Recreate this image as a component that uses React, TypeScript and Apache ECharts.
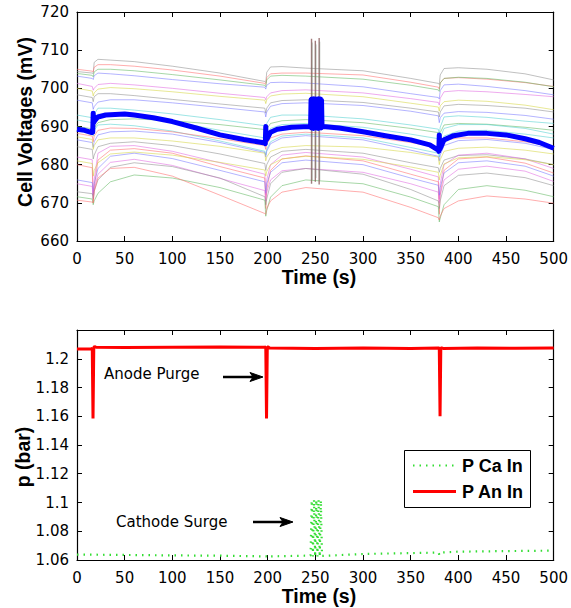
import React, { useEffect, useRef } from "react";
import * as echarts from "echarts";

// ---------- Top chart: cell voltages (mV) ----------
const cellTimes = [0, 16, 17, 18, 22, 35, 60, 100, 150, 197, 198, 199, 203, 215, 240, 300, 350, 379, 380, 381, 385, 400, 430, 470, 500];

const cell01 = [704.4, 704.0, 703.8, 706.8, 707.6, 707.4, 707.0, 705.8, 704.0, 701.8, 701.5, 704.2, 705.6, 705.7, 705.3, 704.6, 702.6, 701.3, 701.0, 703.5, 705.2, 705.4, 705.0, 703.8, 702.2];
const cell02 = [705.0, 704.5, 704.3, 705.5, 706.2, 706.2, 705.8, 704.8, 703.2, 701.3, 701.0, 702.8, 703.8, 704.0, 704.0, 703.5, 701.6, 700.3, 699.8, 701.4, 702.6, 702.8, 702.4, 701.5, 700.5];
const cell03 = [703.9, 703.4, 703.0, 704.3, 705.0, 705.0, 704.6, 703.6, 702.2, 700.8, 700.4, 702.2, 703.2, 703.4, 703.2, 702.4, 700.8, 699.6, 699.2, 701.4, 702.6, 702.9, 702.6, 701.6, 700.4];
const cell04 = [703.2, 702.6, 702.3, 703.3, 704.0, 703.8, 703.3, 702.3, 701.2, 700.3, 699.8, 700.8, 701.5, 701.6, 701.4, 700.4, 698.6, 697.6, 697.2, 699.4, 700.9, 701.1, 700.5, 699.4, 698.3];
const cell05 = [701.3, 700.5, 699.5, 700.0, 701.0, 701.3, 700.9, 700.0, 698.7, 697.6, 697.0, 697.8, 698.8, 699.4, 699.6, 698.8, 697.3, 696.3, 695.6, 697.4, 699.1, 699.4, 699.1, 698.4, 697.8];
const cell06 = [700.0, 699.3, 698.0, 698.8, 699.8, 700.2, 699.9, 699.1, 697.9, 696.9, 696.0, 697.0, 698.0, 698.5, 698.7, 697.8, 696.1, 695.1, 694.0, 695.4, 696.5, 696.9, 696.6, 695.6, 694.4];
const cell07 = [698.3, 697.6, 696.5, 697.8, 698.6, 698.6, 698.1, 697.1, 695.9, 694.8, 693.5, 694.8, 696.2, 696.8, 697.0, 696.3, 694.8, 693.8, 692.5, 693.8, 695.4, 695.8, 695.5, 694.8, 693.8];
const cell08 = [696.9, 696.2, 694.5, 695.2, 696.4, 697.0, 697.0, 696.2, 695.0, 693.8, 692.5, 693.8, 695.3, 696.0, 696.2, 695.5, 694.0, 692.8, 691.0, 692.3, 693.5, 693.9, 693.7, 692.9, 691.9];
const cell09 = [691.7, 691.0, 690.0, 693.2, 694.8, 694.8, 694.3, 693.3, 691.8, 690.2, 689.0, 690.8, 692.4, 693.0, 693.0, 692.0, 690.4, 689.3, 688.0, 689.8, 692.5, 692.8, 692.4, 691.4, 690.8];
const cell10 = [690.0, 689.4, 688.0, 689.6, 691.0, 691.8, 692.0, 691.5, 690.5, 689.2, 688.0, 689.3, 690.8, 691.5, 691.8, 691.0, 689.5, 688.4, 687.0, 688.4, 690.4, 690.8, 690.6, 689.8, 689.0];
const cell11 = [689.0, 688.4, 687.5, 689.0, 690.4, 690.6, 690.2, 688.8, 686.2, 683.5, 682.5, 684.0, 686.0, 687.5, 688.0, 687.0, 684.5, 683.0, 682.0, 684.5, 687.5, 688.8, 689.0, 688.0, 687.0];
const cell12 = [688.2, 687.5, 686.0, 687.5, 689.0, 689.6, 689.5, 688.6, 686.8, 685.0, 684.0, 685.4, 687.0, 688.0, 688.5, 687.6, 685.8, 684.5, 683.0, 684.4, 686.4, 687.0, 687.0, 686.0, 684.8];
const cell13 = [686.5, 685.8, 684.5, 686.0, 687.8, 688.6, 688.8, 688.0, 685.8, 683.2, 682.0, 683.5, 685.5, 687.0, 687.6, 686.5, 683.8, 682.2, 681.0, 682.5, 685.0, 686.3, 686.6, 685.6, 684.0];
const cell14 = [687.3, 686.6, 684.0, 685.0, 686.5, 687.0, 687.0, 686.2, 684.8, 683.0, 681.0, 682.0, 683.5, 684.5, 685.0, 684.6, 683.2, 682.0, 680.0, 681.3, 683.5, 684.3, 684.6, 683.8, 682.8];
const cell15 = [684.7, 684.0, 681.5, 682.5, 684.7, 685.6, 686.0, 685.0, 682.8, 680.3, 678.5, 680.0, 682.0, 683.5, 684.0, 683.0, 680.5, 679.2, 678.0, 679.0, 681.2, 682.4, 682.6, 681.5, 680.0];
const cell16 = [682.0, 681.3, 672.0, 676.0, 683.0, 684.8, 685.0, 683.5, 680.5, 677.5, 672.0, 676.0, 680.0, 682.5, 683.2, 682.0, 678.8, 676.8, 671.0, 675.0, 680.0, 682.5, 683.0, 681.5, 679.0];
const cell17 = [680.0, 679.2, 670.0, 674.0, 681.2, 683.8, 684.2, 683.0, 679.5, 676.5, 668.5, 673.5, 678.5, 681.5, 682.3, 681.0, 677.5, 675.5, 667.0, 672.0, 678.5, 681.5, 682.0, 680.4, 677.8];
const cell18 = [681.0, 680.3, 677.0, 678.5, 680.5, 682.8, 683.3, 682.5, 680.6, 678.6, 677.0, 678.2, 680.0, 681.5, 682.2, 681.4, 679.4, 678.0, 676.0, 677.2, 680.2, 681.8, 682.1, 681.3, 680.0];
const cell19 = [676.0, 675.3, 672.0, 675.0, 679.0, 682.2, 683.0, 681.6, 678.5, 675.5, 672.5, 675.0, 678.0, 680.5, 681.2, 680.0, 676.5, 674.6, 672.0, 674.0, 677.8, 680.5, 681.0, 679.6, 677.0];
const cell20 = [675.0, 674.3, 671.0, 673.5, 677.5, 680.6, 681.4, 679.8, 676.4, 673.2, 670.5, 672.8, 676.0, 678.4, 679.0, 678.0, 675.0, 672.8, 670.0, 672.2, 676.0, 678.8, 679.6, 678.3, 675.6];
const cell21 = [672.9, 672.4, 671.0, 673.0, 676.0, 679.3, 680.5, 679.5, 676.5, 671.6, 669.5, 671.0, 675.0, 678.0, 679.0, 677.5, 673.5, 670.5, 668.5, 670.5, 674.5, 677.2, 677.8, 676.6, 674.5];
const cell22 = [671.6, 671.0, 669.5, 670.5, 672.5, 675.5, 677.3, 676.5, 674.0, 670.7, 666.5, 668.0, 671.5, 674.5, 676.0, 675.0, 671.5, 669.0, 665.0, 666.0, 669.5, 673.5, 674.5, 673.3, 671.6];
const cell23 = [670.7, 670.2, 670.0, 673.0, 676.5, 679.0, 679.3, 677.0, 672.0, 667.2, 667.0, 668.5, 670.5, 672.8, 674.0, 672.8, 668.8, 666.1, 665.5, 666.5, 668.5, 670.5, 671.8, 671.0, 669.9];
const cell24 = [693.0, 692.3, 690.5, 692.0, 693.2, 693.2, 692.8, 691.3, 689.0, 687.0, 685.5, 687.5, 689.5, 690.5, 690.8, 689.8, 688.0, 686.8, 685.0, 687.0, 689.5, 690.5, 690.5, 689.5, 688.0];

const cells = [cell01, cell02, cell03, cell04, cell05, cell06, cell07, cell08, cell09, cell10, cell11, cell12,
  cell13, cell14, cell15, cell16, cell17, cell18, cell19, cell20, cell21, cell22, cell23, cell24];

// mean cell voltage (thick blue)
const meanTimes = [0, 8, 15.5, 16.5, 17, 17.5, 18.5, 22, 30, 50, 60, 80, 100, 125, 150, 175, 197, 197.5, 198, 198.5, 199.5, 203, 210, 225, 244,
  245, 245.5, 246, 246.5, 247, 247.5, 248, 248.5, 249, 249.5, 250, 250.5, 251, 251.5, 252, 252.5, 253, 253.5, 254, 254.5, 255, 255.5, 256, 256.5, 257,
  258, 275, 300, 325, 350, 370, 379, 379.5, 380, 380.5, 381.5, 385, 395, 410, 430, 450, 470, 485, 500];
const meanValues = [689.3, 689.0, 688.4, 688.5, 693.5, 691.0, 691.5, 692.5, 693.0, 693.3, 693.0, 692.3, 691.3, 689.6, 687.8, 686.6, 685.7, 685.5, 690.0, 686.5, 686.8, 688.5, 689.3, 689.8, 690.0,
  690.0, 697.0, 689.6, 697.2, 689.8, 696.8, 689.5, 697.3, 690.0, 697.0, 689.7, 697.2, 689.6, 697.1, 689.8, 697.0, 689.5, 697.3, 689.7, 697.0, 689.8, 697.2, 689.6, 696.9, 690.0,
  690.0, 689.6, 688.6, 687.5, 686.5, 685.2, 683.8, 683.5, 687.8, 684.0, 684.5, 686.5, 687.6, 688.2, 688.2, 687.8, 686.8, 685.8, 684.3];

// cathode surge excursions of the cell voltages
const surgeSpikeTimes = [246, 250, 254];
const surgeSpikeLow = [675.0, 675.5, 674.8];
const surgeSpikeHigh = [713.0, 712.5, 713.2];

// ---------- Bottom chart: pressures (bar) ----------
const anodeTimes = [0, 15, 16, 16.8, 17.6, 18.5, 20, 50, 100, 150, 197, 198, 198.8, 199.6, 200.5, 202, 250, 300, 350, 379, 380, 380.8, 381.6, 382.5, 384, 420, 460, 500];
const anodeValues = [1.2068, 1.2068, 1.2075, 1.1585, 1.2078, 1.2085, 1.208, 1.2078, 1.208, 1.2082, 1.208, 1.2082, 1.1585, 1.2082, 1.2082, 1.2075, 1.2072, 1.2075, 1.2072, 1.2075, 1.2075, 1.1600, 1.2075, 1.2075, 1.2072, 1.2075, 1.2073, 1.2075];

const cathodeTimes = [0, 50, 100, 150, 199, 200, 201, 240, 245,
  246.2, 247.4, 248.6, 249.8, 251.0, 252.2, 253.4, 254.6, 255.8,
  257, 300, 350, 379, 380, 381, 400, 450, 500];
const cathodeValues = [1.0638, 1.0635, 1.0632, 1.063, 1.0625, 1.0618, 1.0625, 1.063, 1.0632,
  1.1015, 1.0625, 1.102, 1.0622, 1.1018, 1.0625, 1.102, 1.0622, 1.1015,
  1.0628, 1.0642, 1.0648, 1.0652, 1.0638, 1.0652, 1.0658, 1.0662, 1.0665];

const timeTicks = { min: 0, max: 500, interval: 50 };
const voltTicks = { min: 660, max: 720, interval: 10 };
const presTicks = { min: 1.06, max: 1.22, interval: 0.02 };

const cellColors = ["#8c8c8c", "#ff6a6a", "#5fb65f", "#7777ff", "#e066e0", "#d6d640", "#8c8c8c", "#7777ff",
  "#4fd0d0", "#5fb65f", "#4fd0d0", "#ff6a6a", "#7777ff", "#d6d640", "#8c8c8c", "#e066e0",
  "#ff6a6a", "#d6d640", "#7777ff", "#e066e0", "#8c8c8c", "#5fb65f", "#ff6a6a", "#4fd0d0"];

const TICK_FONT = '"DejaVu Sans", sans-serif';
const TITLE_FONT = '"Liberation Sans", Arial, sans-serif';

function axisPair(gridIndex: number, range: any, showLabels: boolean, position: string, margin: number, fmt?: (v: number) => string) {
  return {
    type: "value",
    gridIndex,
    position,
    min: range.min,
    max: range.max,
    interval: range.interval,
    axisLine: { show: true, onZero: false, lineStyle: { color: "#000", width: 1.2 } },
    axisTick: { show: true, inside: true, length: 5, lineStyle: { color: "#000", width: 1 } },
    axisLabel: showLabels
      ? { show: true, color: "#000", fontSize: 15, fontFamily: TICK_FONT, margin, formatter: fmt, showMaxLabel: range.max !== 1.22 }
      : { show: false },
    splitLine: { show: false },
  };
}

export default function App() {
  const ref = useRef<HTMLDivElement>(null);

  useEffect(() => {
    document.body.style.margin = "0";
    if (!ref.current) return;
    const chart = echarts.init(ref.current, undefined, { renderer: "svg" });

    const series: any[] = [];
    cells.forEach((vals, i) => {
      series.push({
        type: "line",
        xAxisIndex: 0,
        yAxisIndex: 0,
        data: cellTimes.map((t, j) => [t, vals[j]]),
        symbol: "none",
        silent: true,
        lineStyle: { color: cellColors[i], width: 1, opacity: 0.55 },
        z: 2,
      });
    });
    surgeSpikeTimes.forEach((t, i) => {
      series.push({
        type: "line",
        xAxisIndex: 0,
        yAxisIndex: 0,
        data: [[t, surgeSpikeLow[i]], [t, surgeSpikeHigh[i]]],
        symbol: "none",
        silent: true,
        lineStyle: { color: "#8a5a5a", width: 1.4, opacity: 0.8 },
        z: 3,
      });
      series.push({
        type: "line",
        xAxisIndex: 0,
        yAxisIndex: 0,
        data: [[t + 0.6, surgeSpikeLow[i] + 1], [t + 0.6, surgeSpikeHigh[i] - 1]],
        symbol: "none",
        silent: true,
        lineStyle: { color: "#7a8a7a", width: 1, opacity: 0.6 },
        z: 3,
      });
    });
    series.push({
      type: "line",
      xAxisIndex: 0,
      yAxisIndex: 0,
      data: meanTimes.map((t, j) => [t, meanValues[j]]),
      symbol: "none",
      silent: true,
      lineStyle: { color: "#0000ff", width: 5, join: "round" },
      z: 5,
    });
    series.push({
      type: "line",
      xAxisIndex: 2,
      yAxisIndex: 2,
      data: cathodeTimes.map((t, j) => [t, cathodeValues[j]]),
      symbol: "none",
      silent: true,
      lineStyle: { color: "#33dd33", width: 2.2, type: [1.5, 5] },
      z: 4,
    });
    series.push({
      type: "line",
      xAxisIndex: 2,
      yAxisIndex: 2,
      data: anodeTimes.map((t, j) => [t, anodeValues[j]]),
      symbol: "none",
      silent: true,
      lineStyle: { color: "#ff0000", width: 3 },
      z: 5,
    });

    const presFmt = (v: number) => String(parseFloat(v.toFixed(2)));
    const center = { align: "center", verticalAlign: "middle", textAlign: "center", textVerticalAlign: "middle" };
    const leftMid = { align: "left", verticalAlign: "middle", textAlign: "left", textVerticalAlign: "middle" };

    const option: any = {
      animation: false,
      backgroundColor: "#fff",
      grid: [
        { left: 77, top: 12, width: 478, height: 229 },
        { left: 77, top: 330, width: 478, height: 230 },
      ],
      xAxis: [
        axisPair(0, timeTicks, true, "bottom", 10),
        axisPair(0, timeTicks, false, "top", 8),
        axisPair(1, timeTicks, true, "bottom", 10),
        axisPair(1, timeTicks, false, "top", 8),
      ],
      yAxis: [
        axisPair(0, voltTicks, true, "left", 8),
        axisPair(0, voltTicks, false, "right", 8),
        axisPair(1, presTicks, true, "left", 8, presFmt),
        axisPair(1, presTicks, false, "right", 8),
      ],
      series,
      graphic: [
        { type: "text", x: 25, y: 122, rotation: Math.PI / 2, z: 10,
          style: { text: "Cell Voltages (mV)", font: `bold 19.5px ${TITLE_FONT}`, fill: "#000", ...center } },
        { type: "text", x: 319, y: 277, z: 10,
          style: { text: "Time (s)", font: `bold 19.5px ${TITLE_FONT}`, fill: "#000", ...center } },
        { type: "text", x: 23, y: 457, rotation: Math.PI / 2, z: 10,
          style: { text: "p (bar)", font: `bold 19.5px ${TITLE_FONT}`, fill: "#000", ...center } },
        { type: "text", x: 319, y: 596, z: 10,
          style: { text: "Time (s)", font: `bold 19.5px ${TITLE_FONT}`, fill: "#000", ...center } },
        // annotations
        { type: "text", x: 104, y: 374, z: 10,
          style: { text: "Anode Purge", font: `15px ${TICK_FONT}`, fill: "#000", ...leftMid } },
        { type: "line", z: 10, shape: { x1: 223, y1: 377, x2: 254, y2: 377 }, style: { stroke: "#000", lineWidth: 2.5 } },
        { type: "polygon", z: 10, shape: { points: [[263, 377], [250, 372.5], [253, 377], [250, 381.5]] }, style: { fill: "#000", stroke: "#000", lineWidth: 1 } },
        { type: "text", x: 116, y: 522, z: 10,
          style: { text: "Cathode Surge", font: `15px ${TICK_FONT}`, fill: "#000", ...leftMid } },
        { type: "line", z: 10, shape: { x1: 253, y1: 522, x2: 284, y2: 522 }, style: { stroke: "#000", lineWidth: 2.5 } },
        { type: "polygon", z: 10, shape: { points: [[293, 522], [280, 517.5], [283, 522], [280, 526.5]] }, style: { fill: "#000", stroke: "#000", lineWidth: 1 } },
        // legend
        { type: "rect", z: 10, shape: { x: 404.5, y: 450.5, width: 126, height: 57 }, style: { fill: "#fff", stroke: "#000", lineWidth: 1 } },
        { type: "line", z: 11, shape: { x1: 413, y1: 465.5, x2: 454, y2: 465.5 }, style: { stroke: "#33dd33", lineWidth: 2.2, lineDash: [1.5, 5] } },
        { type: "line", z: 11, shape: { x1: 413, y1: 491.5, x2: 456, y2: 491.5 }, style: { stroke: "#ff0000", lineWidth: 3 } },
        { type: "text", x: 462, y: 466, z: 11,
          style: { text: "P Ca In", font: `bold 18px ${TITLE_FONT}`, fill: "#000", ...leftMid } },
        { type: "text", x: 462, y: 492, z: 11,
          style: { text: "P An In", font: `bold 18px ${TITLE_FONT}`, fill: "#000", ...leftMid } },
      ],
    };
    chart.setOption(option);
    return () => chart.dispose();
  }, []);

  return <div ref={ref} style={{ width: 571, height: 608 }} />;
}
